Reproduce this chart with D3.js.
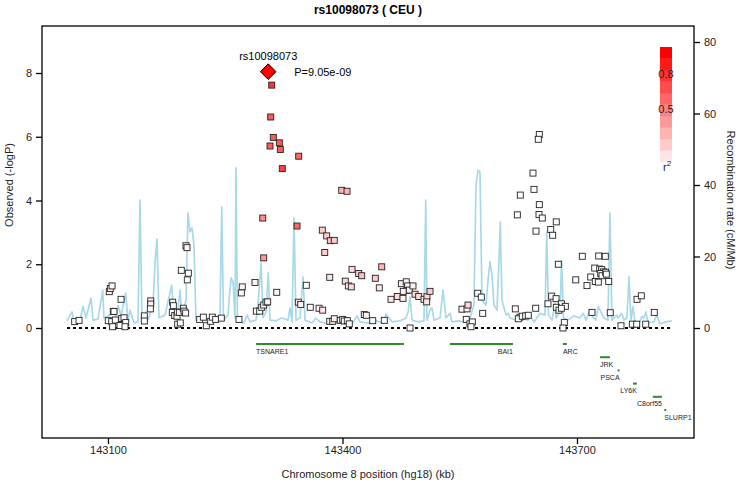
<!DOCTYPE html>
<html><head><meta charset="utf-8">
<script src="https://cdn.jsdelivr.net/npm/d3@7"></script>
<style>
body{margin:0;background:#fff;}
svg{font-family:"Liberation Sans", Arial, Helvetica, sans-serif;}
</style></head><body>
<svg id="chart" width="740" height="487"></svg>
<script>
// ---------------- DATA ----------------
const titleText = "rs10098073 ( CEU )";
const leadName = "rs10098073";
const leadPos = 143305.0;
const leadLogP = 8.043;
const leadPLabel = "P=9.05e-09";

const snpPos = [143057.4,143063.0,143101.7,143103.0,143105.2,143116.7,143106.8,143107.7,143100.4,143104.8,
143109.4,143106.0,143115.4,143117.6,143120.5,143122.7,143121.8,143146.5,143146.5,143154.7,
143154.7,143154.2,143182.8,143183.6,143182.3,143185.4,143188.3,143188.7,143191.3,143189.2,
143192.5,143196.4,143197.3,143199.4,143193.8,143199.8,143201.1,143202.8,143201.5,143217.3,
143222.0,143225.8,143231.4,143233.5,143237.8,143245.0,143267.6,143271.8,143270.6,143288.1,
143289.8,143294.1,143296.7,143299.2,143302.2,143304.3,143315.9,143298.0,143299.2,143323.0,
143309.5,143308.2,143311.5,143307.3,143319.2,143320.5,143344.0,143341.8,143399.0,143405.8,
143374.2,143379.8,143384.4,143389.5,143377.3,143412.2,143420.7,143424.6,143450.2,143383.7,
143403.6,143407.5,143411.3,143442.0,143447.1,143353.7,143343.5,143346.6,143358.8,143370.0,
143374.7,143383.7,143387.5,143389.5,143397.2,143400.3,143402.3,143406.2,143408.7,143427.9,
143430.5,143438.7,143453.5,143462.1,143470.1,143477.4,143475.3,143481.6,143483.4,143482.5,
143477.8,143485.5,143490.2,143492.8,143497.5,143504.3,143508.1,143507.7,143512.0,143486.4,
143552.9,143559.3,143560.6,143558.4,143563.1,143566.1,143564.4,143573.0,143577.6,143579.4,
143651.8,143650.5,143643.7,143627.5,143645.0,143651.8,143623.7,143651.4,143655.6,143673.5,
143647.6,143666.4,143668.9,143676.1,143706.8,143727.8,143736.2,143722.7,143729.1,143731.6,
143733.7,143730.4,143732.0,143736.7,143737.5,143717.6,143723.4,143727.3,143698.4,143712.8,
143740.6,143621.1,143627.1,143624.9,143630.0,143634.4,143637.7,143647.2,143667.6,143673.2,
143662.9,143680.0,143673.6,143685.1,143677.0,143680.0,143683.8,143682.1,143719.2,143742.6,
143756.3,143770.8,143776.4,143787.9,143776.8,143782.3,143798.9];

const snpLogP = [0.20,0.24,1.14,1.24,1.32,0.90,0.52,0.52,0.23,0.20,
0.25,0.04,0.08,0.30,0.32,0.17,0.04,0.38,0.22,0.85,
0.75,0.60,0.81,0.70,0.49,0.39,0.37,0.50,0.49,0.12,
0.16,0.62,0.53,0.47,1.81,2.58,2.52,1.72,1.51,0.27,
0.34,0.07,0.21,0.34,0.27,0.31,0.27,1.29,1.10,1.43,
0.53,0.53,0.65,0.72,0.81,0.82,1.12,3.45,2.20,5.00,
7.62,6.62,5.98,5.71,5.81,5.60,5.39,3.20,4.32,4.29,
3.07,2.89,2.74,2.75,2.37,1.84,1.71,1.64,1.92,1.59,
1.47,1.32,1.29,1.56,1.26,1.34,0.81,0.74,0.65,0.62,
0.56,0.21,0.21,0.29,0.24,0.27,0.22,0.23,0.13,0.42,
0.40,0.23,0.24,0.90,0.99,0.93,1.39,1.45,1.32,1.18,
1.15,1.19,1.32,1.06,0.99,0.90,0.98,0.82,1.15,0.00,
0.59,0.60,0.72,0.27,0.13,0.19,0.04,1.09,0.97,0.46,
6.07,5.92,4.86,4.17,4.35,3.87,3.55,3.56,3.45,3.33,
3.04,3.09,2.91,2.00,2.25,2.26,2.25,1.88,1.85,1.83,
1.76,1.71,1.64,1.75,1.69,1.60,1.46,1.44,1.51,1.33,
1.46,0.60,0.34,0.29,0.37,0.38,0.40,0.62,1.00,0.92,
0.76,0.76,0.65,0.68,0.56,0.62,0.17,0.00,0.49,0.48,
0.07,0.12,0.12,0.12,0.90,1.01,0.49];

const snpR2 = [0,0,0.05,0.05,0.05,0,0,0,0,0,
0,0,0,0,0,0,0,0,0,0.05,
0.05,0,0.05,0,0,0,0,0,0.05,0,
0,0.05,0,0,0,0.05,0.05,0,0,0,
0,0,0,0,0,0,0,0.05,0,0.05,
0,0,0,0,0,0.05,0.05,0.45,0.4,0.75,
0.8,0.65,0.65,0.65,0.65,0.65,0.6,0.6,0.3,0.3,
0.2,0.2,0.25,0.2,0.2,0.15,0.2,0.25,0.3,0.1,
0.15,0.1,0.15,0.2,0.1,0,0.1,0.05,0,0.05,
0.1,0.05,0.05,0.05,0.05,0.05,0,0.05,0,0.05,
0.05,0,0,0.1,0.15,0.05,0.1,0.05,0.05,0.05,
0.05,0.05,0.05,0.15,0.15,0.1,0.15,0.1,0.2,0,
0.05,0.05,0.15,0,0,0,0,0,0,0,
0,0,0,0,0,0,0,0,0,0,
0,0,0,0,0,0,0,0,0,0,
0,0,0,0,0,0,0,0,0,0,
0,0,0,0,0,0,0,0,0,0,
0,0,0,0,0,0,0,0,0,0,
0,0,0,0,0,0,0];

const recombPos = [143047.6,143054.0,143056.5,143064.2,143068.1,143071.9,143078.3,143080.9,143087.2,143093.3,
143094.9,143102.6,143106.4,143110.3,143112.9,143116.7,143122.7,143125.6,143128.2,143133.3,
143138.4,143141.0,143143.5,143148.6,143151.2,143157.6,143160.2,143162.7,143165.3,143173.0,
143181.5,143184.5,143189.6,143192.1,143194.7,143199.8,143202.4,143204.9,143207.5,143210.0,
143212.6,143220.3,143228.0,143235.6,143243.3,143245.5,143247.8,143253.5,143257.4,143260.0,
143262.5,143263.8,143265.7,143274.0,143277.9,143281.7,143289.4,143291.9,143295.8,143298.3,
143302.2,143305.1,143307.3,143315.0,143322.6,143330.3,143332.9,143335.4,143338.0,143340.5,
143345.6,143349.5,143352.1,143361.0,143366.1,143371.2,143381.5,143387.9,143391.7,143402.0,
143407.1,143412.2,143418.6,143422.4,143432.7,143442.9,143453.1,143455.7,143463.4,143473.6,
143481.3,143483.9,143486.4,143489.0,143496.6,143504.3,143506.5,143508.1,143512.0,143514.5,
143517.1,143524.8,143528.6,143532.4,143537.5,143540.1,143547.8,143555.5,143563.1,143568.2,
143570.8,143573.4,143575.9,143578.5,143583.6,143586.2,143588.7,143591.3,143593.8,143597.7,
143600.2,143601.9,143604.0,143609.2,143612.1,143614.3,143622.0,143629.7,143637.3,143640.6,
143645.0,143652.7,143659.1,143661.3,143663.6,143668.1,143671.9,143673.2,143678.3,143680.4,
143682.7,143688.5,143696.2,143703.8,143708.1,143711.5,143716.6,143719.2,143724.0,143727.3,
143734.5,143739.6,143742.2,143744.7,143750.8,143752.4,143757.2,143760.1,143763.9,143766.5,
143769.0,143771.6,143774.2,143780.6,143782.8,143785.7,143788.2,143790.8,143798.5,143802.0,
143806.1,143813.8,143821.5];

const recombRate = [2.0,4.5,1.7,2.2,6.0,2.8,8.4,2.2,2.5,10.6,
2.8,3.6,5.6,2.8,6.4,3.4,9.8,1.7,5.0,1.4,
1.7,35.8,1.7,4.5,2.2,6.4,18.2,24.9,2.8,3.6,
12.0,2.8,5.0,10.6,3.6,7.8,32.2,26.9,28.0,23.2,
2.2,2.8,1.7,2.2,2.8,33.8,2.2,3.6,14.0,12.9,
2.8,44.8,1.7,1.4,3.6,1.7,2.2,6.4,18.2,2.8,
4.5,15.4,2.2,2.0,2.8,2.2,5.6,1.7,30.8,2.2,
2.8,14.3,2.2,1.4,2.8,1.7,1.1,3.4,1.4,1.7,
2.8,1.1,3.4,1.7,1.4,2.0,1.4,3.9,1.7,2.0,
2.8,4.5,8.7,2.2,1.7,2.0,35.8,2.2,5.0,5.6,
2.2,2.8,10.6,2.8,4.1,1.7,2.0,1.7,2.8,6.4,
40.0,44.2,43.6,7.8,6.4,13.4,18.5,14.8,6.4,5.0,
19.0,29.6,7.8,3.6,4.1,2.8,2.2,2.8,2.2,3.2,
1.7,4.1,3.6,26.9,3.6,2.2,6.9,2.8,4.5,19.0,
2.8,2.2,3.4,2.8,4.1,2.2,5.0,3.4,2.2,6.0,
2.8,2.2,32.2,2.2,3.6,2.8,4.1,2.2,2.8,14.3,
2.2,5.9,1.7,1.7,3.2,2.8,4.5,1.4,1.7,3.6,
1.1,1.7,2.0];

const geneNames  = ["TSNARE1","BAI1","ARC","JRK","PSCA","LY6K","C8orf55","SLURP1"];
const geneStart  = [143289.4,143537.5,143682.0,143729.4,143752.0,143771.6,143797.0,143812.0];
const geneEnd    = [143478.7,143618.1,143687.0,143742.2,143754.5,143776.7,143808.7,143814.0];
const geneStrand = ["-","+","-","-","+","+","+","-"];
const geneRow    = [0,0,0,1,2,3,4,5];

const xTicks  = [143100,143400,143700];
const yTicks  = [0,2,4,6,8];
const y2Ticks = [0,20,40,60,80];
const legendSteps = [0.1,0.2,0.3,0.4,0.5,0.6,0.7,0.8,0.9,1.0];
const legendLabels = [0.8,0.5];

// ---------------- LAYOUT ----------------
const L=42, R=694, T=26, B=438;
const svg = d3.select("#chart");
const x  = d3.scaleLinear().domain([143015.6,143849.7]).range([L,R]);
const y  = d3.scaleLinear().domain([-3.451,9.475]).range([B,T]);
const y2 = d3.scaleLinear().domain([-30.77,84.48]).range([B,T]);
const r2Color = r => d3.interpolateRgb("#ffffff","#ff0000")(r);

// recombination line
const recomb = recombPos.map((p,i)=>({p, r:recombRate[i]}));
svg.append("path").datum(recomb)
  .attr("fill","none").attr("stroke","#a9d9e8").attr("stroke-width",1.7)
  .attr("stroke-linejoin","round")
  .attr("d", d3.line().x(d=>x(d.p)).y(d=>y2(d.r)));

// zero dashed line
svg.append("line")
  .attr("x1", x(recombPos[0])).attr("x2", x(recombPos[recombPos.length-1]))
  .attr("y1", y(0)).attr("y2", y(0))
  .attr("stroke","#000").attr("stroke-width",2).attr("stroke-dasharray","3,3");

// SNPs
const snps = snpPos.map((p,i)=>({p, v:snpLogP[i], r:snpR2[i]}));
svg.append("g").selectAll("rect").data(snps).join("rect")
  .attr("x", d=>x(d.p)-3).attr("y", d=>y(d.v)-3)
  .attr("width",6).attr("height",6)
  .attr("fill", d=>r2Color(d.r))
  .attr("stroke","#222").attr("stroke-width",0.9);

// lead SNP diamond
const cx = x(leadPos), cy = y(leadLogP), h = 7.8;
svg.append("path")
  .attr("d", `M${cx},${cy-h}L${cx+h},${cy}L${cx},${cy+h}L${cx-h},${cy}Z`)
  .attr("fill","#ff0000").attr("stroke","#000").attr("stroke-width",1);
svg.append("text").attr("x",cx).attr("y",cy-12).attr("text-anchor","middle")
  .attr("font-size",11).text(leadName);
svg.append("text").attr("x",cx+26).attr("y",cy+4).attr("text-anchor","start")
  .attr("font-size",11).text(leadPLabel);

// genes
const rowY = r => y(0) + 16 + r*13.2;
const genes = geneNames.map((n,i)=>({n, s:geneStart[i], e:geneEnd[i], st:geneStrand[i], row:geneRow[i]}));
const gG = svg.append("g");
genes.forEach(g=>{
  let x1 = x(g.s), x2 = x(g.e);
  if (x2-x1 < 2) { const m=(x1+x2)/2; x1=m-1; x2=m+1; }
  gG.append("line").attr("x1",x1).attr("x2",x2).attr("y1",rowY(g.row)).attr("y2",rowY(g.row))
    .attr("stroke","#2e8b2e").attr("stroke-width",2);
  gG.append("text")
    .attr("x", g.st==="+" ? x2 : x1)
    .attr("y", rowY(g.row)+9.5)
    .attr("text-anchor", g.st==="+" ? "end" : "start")
    .attr("font-size",7).attr("fill","#222").text(g.n);
});

// legend
const legTop = 47, legBot = 162, legX = 660, legW = 12;
const ly = d3.scaleLinear().domain([0,1]).range([legBot,legTop]);
svg.append("g").selectAll("rect").data(legendSteps).join("rect")
  .attr("x",legX).attr("width",legW)
  .attr("y", d=>ly(d)).attr("height", d=>ly(d-0.1)-ly(d)+0.3)
  .attr("fill", d=>r2Color(d));
svg.append("g").selectAll("text").data(legendLabels).join("text")
  .attr("x", legX+legW/2).attr("y", d=>ly(d)+8)
  .attr("text-anchor","middle").attr("font-size",11).attr("fill","#222")
  .text(d=>d.toFixed(1));
const r2t = svg.append("text").attr("x",legX+3).attr("y",legBot+9).attr("font-size",11).attr("fill","#222");
r2t.append("tspan").text("r");
r2t.append("tspan").attr("dy",-5).attr("font-size",8).text("2");

// frame
svg.append("rect").attr("x",L).attr("y",T).attr("width",R-L).attr("height",B-T)
  .attr("fill","none").attr("stroke","#000").attr("stroke-width",1.3);

// axes
const axL = svg.append("g").attr("transform",`translate(${L},0)`)
  .call(d3.axisLeft(y).tickValues(yTicks).tickSize(6).tickPadding(4).tickFormat(d3.format("d")));
const axR = svg.append("g").attr("transform",`translate(${R},0)`)
  .call(d3.axisRight(y2).tickValues(y2Ticks).tickSize(6).tickPadding(4).tickFormat(d3.format("d")));
const axB = svg.append("g").attr("transform",`translate(0,${B})`)
  .call(d3.axisBottom(x).tickValues(xTicks).tickSize(6).tickPadding(2).tickFormat(d3.format("d")));
[axL,axR,axB].forEach(a=>{
  a.select(".domain").remove();
  a.selectAll("line").attr("stroke","#000").attr("stroke-width",1.3);
  a.selectAll("text").attr("font-size",11).attr("fill","#222")
    .attr("font-family","Liberation Sans, Arial, sans-serif");
});

// titles
svg.append("text").attr("x",(L+R)/2).attr("y",14).attr("text-anchor","middle")
  .attr("font-size",12).attr("font-weight","bold").text(titleText);
svg.append("text").attr("x",(L+R)/2).attr("y",478).attr("text-anchor","middle")
  .attr("font-size",11).attr("fill","#222").text("Chromosome 8 position (hg18) (kb)");
svg.append("text").attr("transform","translate(13,185) rotate(-90)").attr("text-anchor","middle")
  .attr("font-size",11).attr("fill","#222").text("Observed (-logP)");
svg.append("text").attr("transform","translate(727,200) rotate(90)").attr("text-anchor","middle")
  .attr("font-size",11).attr("fill","#222").text("Recombination rate (cM/Mb)");
</script></body></html>
